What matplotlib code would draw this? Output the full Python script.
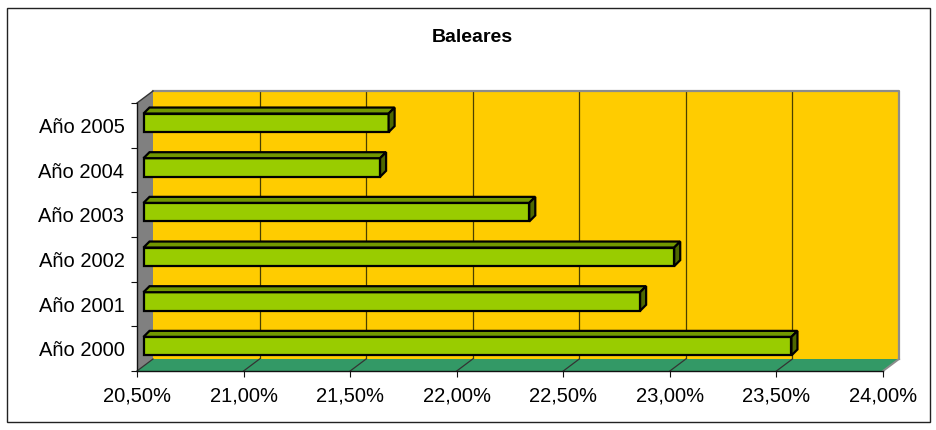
import numpy as np
import matplotlib
matplotlib.use("Agg")
import matplotlib.pyplot as plt
from matplotlib.patches import Polygon, Rectangle
from matplotlib.transforms import ScaledTranslation

plt.rcParams["font.family"] = ["Liberation Sans", "DejaVu Sans"]

# ---- data -------------------------------------------------------------
title = "Baleares"
categories = ["Año 2000", "Año 2001", "Año 2002", "Año 2003", "Año 2004", "Año 2005"]
values = [23.54, 22.83, 22.99, 22.31, 21.61, 21.65]   # percent
x_ticks = [20.5, 21.0, 21.5, 22.0, 22.5, 23.0, 23.5, 24.0]
x_tick_labels = ["20,50%", "21,00%", "21,50%", "22,00%", "22,50%", "23,00%", "23,50%", "24,00%"]
x_min, x_max = 20.5, 24.0

# ---- colours ------------------------------------------------------------
WALL = "#FFCC00"
SIDE_WALL = "#808080"
FLOOR = "#339966"
BAR_FRONT = "#99CC00"
BAR_TOP = "#729800"
BAR_SIDE = "#4E6800"
GRID = "#4a3f00"

W, H, DPI = 937, 430, 100
fig = plt.figure(figsize=(W / DPI, H / DPI), dpi=DPI)

# chart frame
fig.patches.append(Rectangle((7 / W, 8 / H), 923 / W, 414 / H, transform=fig.transFigure,
                             fill=False, edgecolor="#222222", linewidth=1.0))
fig.text(472 / W, 1 - 37 / H, title, ha="center", va="center",
         fontsize=14, fontweight="bold")

# front plane of the 3-D plot area
ax_l, ax_b, ax_w, ax_h = 137, 59, 746, 268
ax = fig.add_axes([ax_l / W, ax_b / H, ax_w / W, ax_h / H])
ax.set_xlim(x_min, x_max)
ax.set_ylim(-0.5, len(categories) - 0.5)
ax.patch.set_visible(False)

px_x = ax_w / (x_max - x_min)          # pixels per percent
px_y = ax_h / len(categories)          # pixels per category
depth_x, depth_y = 16 / px_x, 12 / px_y  # depth of the plot box, in data units
y0, y1 = -0.5, len(categories) - 0.5

# back wall
ax.add_patch(Rectangle((x_min + depth_x, y0 + depth_y), x_max - x_min, y1 - y0,
                       facecolor=WALL, edgecolor="none", zorder=0.2, clip_on=False))
for xv in x_ticks[1:-1]:
    ax.plot([xv + depth_x, xv + depth_x], [y0 + depth_y, y1 + depth_y],
            color=GRID, linewidth=0.9, zorder=0.3, clip_on=False)
ax.plot([x_min + depth_x, x_max + depth_x, x_max + depth_x],
        [y1 + depth_y, y1 + depth_y, y0 + depth_y],
        color="#8c8c8c", linewidth=1.6, zorder=0.35, clip_on=False)

# side wall
ax.add_patch(Polygon([(x_min, y0), (x_min, y1), (x_min + depth_x, y1 + depth_y),
                      (x_min + depth_x, y0 + depth_y)],
                     closed=True, facecolor=SIDE_WALL, edgecolor="none",
                     zorder=0.4, clip_on=False))
ax.plot([x_min, x_min + depth_x], [y1, y1 + depth_y], color="#333333",
        linewidth=1.0, zorder=0.45, clip_on=False)

# floor
ax.add_patch(Polygon([(x_min, y0), (x_max, y0), (x_max + depth_x, y0 + depth_y),
                      (x_min + depth_x, y0 + depth_y)],
                     closed=True, facecolor=FLOOR, edgecolor="none",
                     zorder=0.5, clip_on=False))
ax.plot([x_max, x_max + depth_x], [y0, y0 + depth_y], color="#8c8c8c",
        linewidth=1.4, zorder=0.55, clip_on=False)
for xv in x_ticks[:-1]:
    ax.plot([xv, xv + depth_x], [y0, y0 + depth_y], color="#333333",
            linewidth=0.9, zorder=0.6, clip_on=False)

# bars: front face shifted into the depth of the box, then top and side faces
shift = ScaledTranslation(6.5 / DPI, 2.5 / DPI, fig.dpi_scale_trans)
bar_tr = ax.transData + shift
bar_h = 18.6 / px_y
bx, by = 6 / px_x, 6 / px_y
ypos = np.arange(len(categories))
vals = np.array(values)
ax.barh(ypos, vals - x_min, left=x_min, height=bar_h, color=BAR_FRONT,
        edgecolor="black", linewidth=1.6, transform=bar_tr, zorder=3, clip_on=False)
for yc, v in zip(ypos, vals):
    top = yc + bar_h / 2
    bot = yc - bar_h / 2
    ax.add_patch(Polygon([(x_min, top), (v, top), (v + bx, top + by), (x_min + bx, top + by)],
                         closed=True, facecolor=BAR_TOP, edgecolor="black",
                         linewidth=1.6, joinstyle="miter", transform=bar_tr,
                         zorder=3, clip_on=False))
    ax.add_patch(Polygon([(v, bot), (v, top), (v + bx, top + by), (v + bx, bot + by)],
                         closed=True, facecolor=BAR_SIDE, edgecolor="black",
                         linewidth=1.6, joinstyle="miter", transform=bar_tr,
                         zorder=3, clip_on=False))

# axes
for s in ("top", "right"):
    ax.spines[s].set_visible(False)
for s in ("left", "bottom"):
    ax.spines[s].set_color("#111111")
    ax.spines[s].set_linewidth(1.0)
    ax.spines[s].set_zorder(2)

ax.set_xticks(x_ticks)
ax.set_xticklabels(x_tick_labels, fontsize=14.5)
ax.tick_params(axis="x", direction="out", length=4.5, width=0.8, pad=7, color="#111111")

ax.set_yticks(np.arange(-0.5, len(categories), 1.0))
ax.set_yticklabels([])
ax.set_yticks(ypos, minor=True)
ax.set_yticklabels(categories, minor=True, fontsize=14.5)
ax.tick_params(axis="y", which="major", direction="out", length=4.5, width=0.8, color="#111111")
ax.tick_params(axis="y", which="minor", length=0, pad=9)

fig.savefig("out.png", dpi=DPI)
